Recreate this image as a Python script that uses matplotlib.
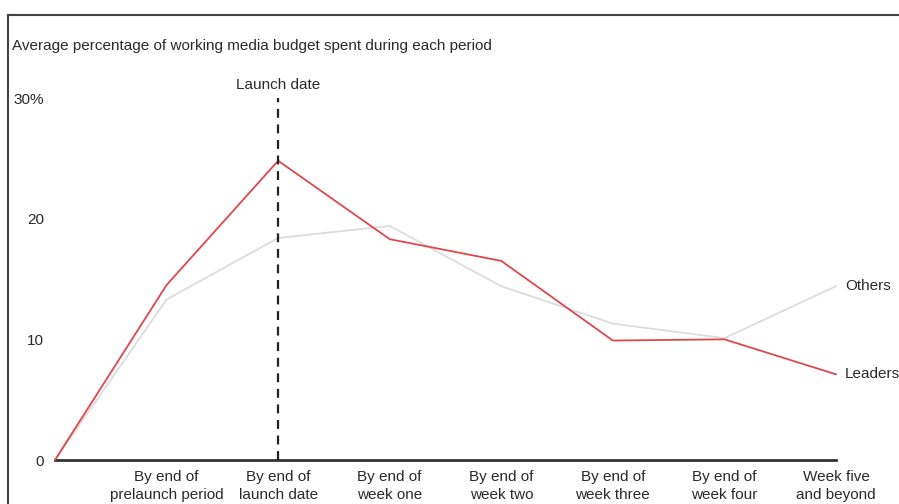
import matplotlib
matplotlib.use("Agg")
import matplotlib.pyplot as plt
from matplotlib.lines import Line2D

# values
periods = ["", "By end of\nprelaunch period", "By end of\nlaunch date", "By end of\nweek one",
           "By end of\nweek two", "By end of\nweek three", "By end of\nweek four",
           "Week five\nand beyond"]
leaders = [0, 14.5, 24.8, 18.3, 16.5, 9.9, 10.0, 7.1]
others = [0, 13.3, 18.4, 19.4, 14.4, 11.3, 10.1, 14.4]
yticks = [0, 10, 20, 30]
ytick_labels = ["0", "10", "20", "30%"]
launch_idx = 2

plt.rcParams["font.family"] = ["Liberation Sans", "DejaVu Sans"]
FS = 11
TXT = "#2a2a2a"

W, H = 899, 504
fig = plt.figure(figsize=(W / 100, H / 100), dpi=100)
ax = fig.add_axes([55 / W, (H - 460) / H, (836 - 55) / W, (460 - 98) / H])

x = list(range(len(periods)))
ax.plot(x, others, color="#dcdcdc", lw=1.3, clip_on=False, zorder=2)
ax.plot(x, leaders, color="#e0474c", lw=1.3, clip_on=False, zorder=3)

# launch date marker
ax.plot([launch_idx, launch_idx], [0, 30], color="#222222", lw=1.6,
        ls=(0, (4, 3)), clip_on=False, zorder=4)
ax.text(launch_idx, 31.1, "Launch date", ha="center", va="center", fontsize=FS, color=TXT)

# series labels at line ends
ax.text(x[-1] + 0.08, others[-1], "Others", ha="left", va="center", fontsize=FS, color=TXT)
ax.text(x[-1] + 0.08, leaders[-1], "Leaders", ha="left", va="center", fontsize=FS, color=TXT)

ax.set_xlim(0, 7)
ax.set_ylim(0, 30)
ax.set_xticks(x)
ax.set_xticklabels(periods, fontsize=FS, color=TXT, linespacing=1.4)
ax.set_yticks(yticks)
ax.set_yticklabels(ytick_labels, fontsize=FS, color=TXT)
ax.tick_params(axis="both", length=0)
ax.tick_params(axis="x", pad=7)
ax.tick_params(axis="y", pad=8)

for s in ["top", "right", "left"]:
    ax.spines[s].set_visible(False)
ax.spines["bottom"].set_color("#333333")
ax.spines["bottom"].set_linewidth(2)
ax.patch.set_alpha(0)

fig.text(12 / W, 1 - 46 / H, "Average percentage of working media budget spent during each period",
         ha="left", va="center", fontsize=FS, color=TXT)

# outer frame (cut off at right and bottom in the reference)
fig.add_artist(Line2D([8 / W, 1.0], [1 - 15 / H, 1 - 15 / H], color="#444444", lw=1.5))
fig.add_artist(Line2D([8 / W, 8 / W], [0.0, 1 - 15 / H], color="#444444", lw=1.5))

fig.savefig("out.png", dpi=100)
